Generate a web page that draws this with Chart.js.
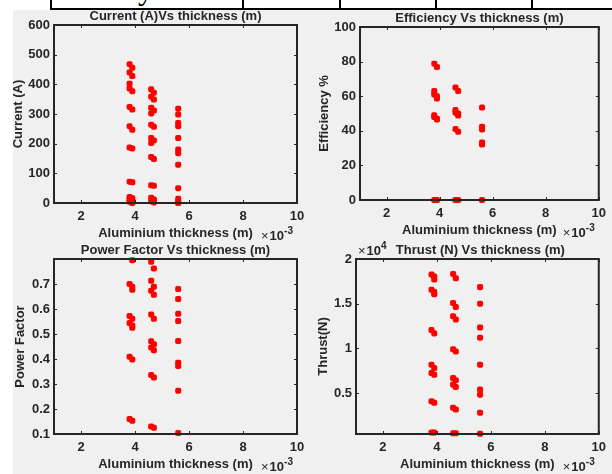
<!DOCTYPE html>
<html>
<head>
<meta charset="utf-8">
<script src="https://cdn.jsdelivr.net/npm/chart.js@4.4.1/dist/chart.umd.min.js"></script>
<style>
body{margin:0;width:612px;height:474px;background:#fff;position:relative;overflow:hidden}
#fig{position:absolute;left:13px;top:10px;width:599px;height:464px;background:#f0f0f0}
#tbl{position:absolute;left:0;top:0;width:612px;height:10px;overflow:hidden}
#tbl .v{position:absolute;top:0;width:2px;height:10px;background:#000}
#tbl .h{position:absolute;left:50px;top:8px;width:562px;height:2px;background:#000}
#tbl span{position:absolute;left:64px;top:-29px;font:31px "Liberation Serif","Times New Roman",serif;color:#000;white-space:nowrap}
canvas{position:absolute;left:0;top:0}
</style>
</head>
<body>
<div id="fig"></div>
<div id="tbl">
<span>density T/m</span>
<div class="v" style="left:50px"></div>
<div class="v" style="left:242px"></div>
<div class="v" style="left:339px"></div>
<div class="v" style="left:435px"></div>
<div class="v" style="left:531px"></div>
<div class="h"></div>
</div>
<canvas id="c1" width="612" height="474"></canvas>
<canvas id="c2" width="612" height="474"></canvas>
<canvas id="c3" width="612" height="474"></canvas>
<canvas id="c4" width="612" height="474"></canvas>
<script>
// thickness columns (m)
const thickness = [0.0038, 0.0039, 0.0046, 0.0047, 0.0056];
const xTickVals = [0.002, 0.004, 0.006, 0.008, 0.010];
const xTickLabels = ['2', '4', '6', '8', '10'];

// current (A), one list per thickness column
const current = [
  [468, 440, 402, 386, 324, 259, 187, 72, 20, 12, 4],
  [456, 428, 377, 315, 247, 184, 70, 16, 8, 0],
  [383, 358, 321, 302, 264, 219, 202, 155, 60, 18, 6],
  [372, 349, 312, 257, 211, 148, 58, 12, 2],
  [318, 298, 270, 259, 219, 180, 168, 129, 50, 14, 5, 0]
];
const currentTicks = [0, 100, 200, 300, 400, 500, 600];

// efficiency (%)
const efficiency = [
  [78.8, 63, 61, 49, 48, 0],
  [76.9, 60, 58.7, 47, 46.5, 0],
  [65, 52, 50.5, 41, 0],
  [63, 50, 48.8, 39.4, 0],
  [53.5, 42.3, 40.8, 33.3, 32.1, 0]
];
const efficiencyTicks = [0, 20, 40, 60, 80, 100];

// power factor
const powerFactor = [
  [0.70, 0.572, 0.544, 0.409, 0.160],
  [0.795, 0.689, 0.677, 0.561, 0.534, 0.525, 0.398, 0.153],
  [0.789, 0.713, 0.673, 0.578, 0.471, 0.446, 0.336, 0.130],
  [0.762, 0.689, 0.657, 0.561, 0.459, 0.435, 0.326, 0.125],
  [0.680, 0.640, 0.581, 0.552, 0.472, 0.385, 0.372, 0.273, 0.104]
];
const pfTicks = [0.1, 0.2, 0.3, 0.4, 0.5, 0.6, 0.7];

// thrust (N)
const thrust = [
  [18260, 16560, 12040, 8150, 7220, 4070, 560],
  [18040, 17700, 16300, 16040, 11670, 7780, 7040, 3890, 560],
  [18330, 15070, 13590, 9890, 6670, 5930, 3330, 480],
  [17850, 14630, 13220, 9630, 6410, 5670, 3150, 480],
  [16850, 15000, 12330, 11190, 8150, 5370, 4810, 2780, 420]
];
const thrustTicks = [5000, 10000, 15000, 20000];
const thrustTickLabels = ['0.5', '1', '1.5', '2'];

const ink = '#262626';
const fam = '"Liberation Sans", Arial, Helvetica, sans-serif';
const xH = 37.8;

function drawExp(ctx, x, y, exp){
  ctx.save();
  ctx.fillStyle = ink;
  ctx.textAlign = 'left';
  ctx.textBaseline = 'alphabetic';
  ctx.font = '13px ' + fam;
  ctx.fillText('\u00d7', x, y);
  x += ctx.measureText('\u00d7').width + 1;
  ctx.font = 'bold 13px ' + fam;
  ctx.fillText('10', x, y);
  x += ctx.measureText('10').width;
  ctx.font = 'bold 10px ' + fam;
  ctx.fillText(exp, x, y - 6);
  ctx.restore();
}

const matlabAxes = {
  id: 'matlabAxes',
  afterDraw(chart, args, o){
    const {ctx, chartArea: a, scales} = chart;
    ctx.save();
    ctx.strokeStyle = ink;
    ctx.lineWidth = 1;
    ctx.beginPath();
    scales.x.ticks.forEach(t => {
      const px = Math.round(scales.x.getPixelForValue(t.value)) + 0.5;
      ctx.moveTo(px, a.bottom); ctx.lineTo(px, a.bottom - 3);
      ctx.moveTo(px, a.top); ctx.lineTo(px, a.top + 3);
    });
    scales.y.ticks.forEach(t => {
      const py = Math.round(scales.y.getPixelForValue(t.value)) + 0.5;
      ctx.moveTo(a.left, py); ctx.lineTo(a.left + 3, py);
      ctx.moveTo(a.right, py); ctx.lineTo(a.right - 3, py);
    });
    ctx.stroke();
    ctx.lineWidth = 2;
    ctx.strokeRect(a.left, a.top, a.right - a.left, a.bottom - a.top);
    ctx.fillStyle = ink;
    ctx.font = 'bold 13px ' + fam;
    ctx.textAlign = 'center';
    ctx.textBaseline = 'alphabetic';
    ctx.fillText(o.title, (a.left + a.right) / 2 + (o.titleShift || 0), a.top - 5.5);
    ctx.restore();
    drawExp(ctx, a.right - 36, a.bottom + 37, '-3');
    if (o.yExp) drawExp(ctx, a.left + 2, a.top - 4, o.yExp);
  }
};

function makeChart(id, g, cols, yMin, yMax, yTicks, yLabels, yTitle, title, yExp){
  const pts = cols.flatMap((col, i) => col.map(v => ({x: thickness[i], y: v})));
  return new Chart(document.getElementById(id), {
    type: 'scatter',
    data: {datasets: [{data: pts, backgroundColor: '#ff0000', borderWidth: 0,
      pointStyle: 'rectRounded', pointRadius: 3.5, clip: false}]},
    options: {
      responsive: false, animation: false, events: [],
      layout: {padding: {left: g.L - g.yW, top: g.T, right: 612 - g.R, bottom: 474 - g.B - xH}},
      plugins: {legend: {display: false}, tooltip: {enabled: false},
        matlabAxes: {title: title, yExp: yExp, titleShift: g.ts}},
      scales: {
        x: {
          type: 'linear', min: 0.001, max: 0.01,
          afterBuildTicks: s => { s.ticks = xTickVals.map(v => ({value: v})); },
          afterFit: s => { s.height = xH; },
          grid: {display: false, drawTicks: false}, border: {display: false},
          ticks: {callback: (v, i) => xTickLabels[i], color: ink, padding: 6, maxRotation: 0,
            font: {family: fam, size: 13, weight: 'bold'}},
          title: {display: true, text: 'Aluminium thickness (m)', color: ink, padding: 0,
            font: {family: fam, size: 13, weight: 'bold', lineHeight: 1.2}}
        },
        y: {
          type: 'linear', min: yMin, max: yMax,
          afterBuildTicks: s => { s.ticks = yTicks.map(v => ({value: v})); },
          afterFit: s => { s.width = g.yW; },
          grid: {display: false, drawTicks: false}, border: {display: false},
          ticks: {callback: (v, i) => yLabels[i], color: ink, padding: 4,
            font: {family: fam, size: 13, weight: 'bold'}},
          title: {display: true, text: yTitle, color: ink, padding: 0,
            font: {family: fam, size: 13, weight: 'bold', lineHeight: 1.2}}
        }
      }
    },
    plugins: [matlabAxes]
  });
}

makeChart('c1', {L: 54, T: 25, R: 297, B: 203, yW: 43.3}, current, 0, 600,
  currentTicks, currentTicks.map(String), 'Current (A)', 'Current (A)Vs thickness (m)');
makeChart('c2', {L: 360, T: 27, R: 601, B: 200, yW: 43.8}, efficiency, 0, 100,
  efficiencyTicks, efficiencyTicks.map(String), 'Efficiency %', 'Efficiency Vs thickness (m)');
makeChart('c3', {L: 54, T: 259, R: 297, B: 434, yW: 41.5}, powerFactor, 0.1, 0.8,
  pfTicks, pfTicks.map(String), 'Power Factor', 'Power Factor Vs thickness (m)');
makeChart('c4', {L: 356, T: 259, R: 601, B: 434, yW: 40.8, ts: 3}, thrust, 400, 20000,
  thrustTicks, thrustTickLabels, 'Thrust(N)', 'Thrust (N) Vs thickness (m)', '4');
</script>
</body>
</html>
